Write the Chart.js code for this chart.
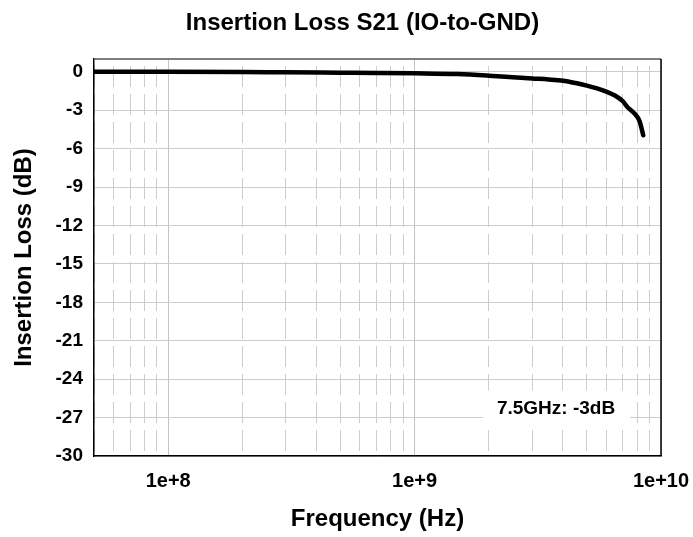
<!DOCTYPE html>
<html>
<head>
<meta charset="utf-8">
<script src="https://cdn.jsdelivr.net/npm/chart.js@4"></script>
<style>
  html, body { margin: 0; padding: 0; background: #fff; }
  #wrap { width: 693px; height: 537px; }
</style>
</head>
<body>
<div id="wrap"><canvas id="chart"></canvas></div>
<script>
// values
const freqs = [5e7, 1e8, 2e8, 3e8, 5e8, 7e8, 1e9, 1.5e9, 2e9, 2.5e9, 3e9, 3.5e9, 4e9, 4.5e9,
               5e9, 5.5e9, 6e9, 6.5e9, 7e9, 7.3e9, 7.6e9, 8e9, 8.2e9, 8.47e9];
const loss = [0, 0, -0.01, -0.04, -0.07, -0.09, -0.12, -0.18, -0.3, -0.42, -0.52, -0.6, -0.7, -0.88,
              -1.08, -1.3, -1.55, -1.85, -2.3, -2.75, -3.05, -3.5, -3.9, -4.95];
const yTicks = [0, -3, -6, -9, -12, -15, -18, -21, -24, -27, -30];
const xMajorTicks = [1e8, 1e9, 1e10];
const xMajorLabels = ['1e+8', '1e+9', '1e+10'];
const annotText = '7.5GHz: -3dB';
const titleText = 'Insertion Loss S21 (IO-to-GND)';

const FONT = '"Liberation Sans", Arial, Helvetica, sans-serif';

// minor grid at 1..9 x each decade inside the range
function logGrid(min, max) {
    const out = [];
    for (let e = 7; e <= 10; e++) {
        for (let m = 1; m <= 9; m++) {
            const v = m * Math.pow(10, e);
            if (v >= min - 1 && v <= max + 1) out.push(v);
        }
    }
    return out;
}
function isDecade(v) {
    const l = Math.log10(v);
    return Math.abs(l - Math.round(l)) < 1e-9;
}

const framePlugin = {
    id: 'frame',
    afterDatasetsDraw(chart) {
        const ctx = chart.ctx;
        const a = chart.chartArea;
        const xs = chart.scales.x, ys = chart.scales.y;
        // annotation box
        const cx = xs.getPixelForValue(3.75e9);
        const cy = ys.getPixelForValue(-26.3);
        ctx.save();
        ctx.fillStyle = '#fff';
        ctx.fillRect(cx - 73, cy - 18, 147, 37);
        ctx.fillStyle = '#000';
        ctx.font = 'bold 19px ' + FONT;
        ctx.textAlign = 'center';
        ctx.textBaseline = 'middle';
        ctx.fillText(annotText, cx, cy);
        // top and right border
        ctx.lineWidth = 1.5;
        ctx.strokeStyle = '#555';
        ctx.beginPath();
        ctx.moveTo(a.left, a.top);
        ctx.lineTo(a.right, a.top);
        ctx.stroke();
        ctx.strokeStyle = '#000';
        ctx.beginPath();
        ctx.moveTo(a.right, a.top);
        ctx.lineTo(a.right, a.bottom);
        ctx.stroke();
        ctx.restore();
    },
    afterDraw(chart) {
        const ctx = chart.ctx;
        ctx.save();
        ctx.fillStyle = '#000';
        ctx.font = 'bold 24px ' + FONT;
        ctx.textAlign = 'center';
        ctx.textBaseline = 'middle';
        ctx.fillText(titleText, chart.width / 2 + 16, 23);
        ctx.restore();
    }
};

new Chart(document.getElementById('chart'), {
    type: 'line',
    data: {
        datasets: [{
            data: freqs.map((f, i) => ({ x: f, y: loss[i] })),
            borderColor: '#000',
            borderWidth: 4.5,
            borderCapStyle: 'round',
            pointRadius: 0,
            cubicInterpolationMode: 'monotone',
            fill: false
        }]
    },
    options: {
        responsive: true,
        maintainAspectRatio: false,
        animation: false,
        layout: { padding: { left: 0, right: 32, top: 59, bottom: 0 } },
        plugins: {
            legend: { display: false },
            tooltip: { enabled: false }
        },
        scales: {
            x: {
                type: 'logarithmic',
                min: 5e7,
                max: 1e10,
                afterBuildTicks: scale => {
                    scale.ticks = logGrid(5e7, 1e10).map(v => ({ value: v, major: isDecade(v) }));
                },
                afterFit: scale => {
                    scale.height = 81;
                    scale.paddingLeft = 0;
                    scale.paddingRight = 0;
                },
                ticks: {
                    autoSkip: false,
                    maxRotation: 0,
                    padding: 13,
                    color: '#000',
                    font: { family: FONT, size: 20, weight: 'bold' },
                    callback: value => {
                        const i = xMajorTicks.findIndex(t => Math.abs(t - value) < 1);
                        return i >= 0 ? xMajorLabels[i] : '';
                    }
                },
                grid: {
                    drawTicks: false,
                    color: c => (c.tick && isDecade(c.tick.value)) ? '#c4c4c4' : '#cdcdcd',
                    lineWidth: 1
                },
                border: {
                    color: '#000',
                    width: 1.5,
                    dash: c => (c.tick && !isDecade(c.tick.value)) ? [21, 7] : [],
                    dashOffset: 21
                },
                title: {
                    display: true,
                    text: 'Frequency (Hz)',
                    color: '#000',
                    padding: { top: 0, bottom: 3 },
                    font: { family: FONT, size: 24, weight: 'bold' }
                }
            },
            y: {
                min: -30,
                max: 1,
                afterBuildTicks: scale => {
                    scale.ticks = yTicks.map(v => ({ value: v }));
                },
                afterFit: scale => { scale.width = 94; },
                ticks: {
                    padding: 11,
                    color: '#000',
                    font: { family: FONT, size: 19, weight: 'bold' }
                },
                grid: {
                    drawTicks: false,
                    color: '#cdcdcd',
                    lineWidth: 1
                },
                border: { color: '#000', width: 1.5 },
                title: {
                    display: true,
                    text: 'Insertion Loss (dB)',
                    color: '#000',
                    padding: { top: 10, bottom: 0 },
                    font: { family: FONT, size: 24, weight: 'bold' }
                }
            }
        }
    },
    plugins: [framePlugin]
});
</script>
</body>
</html>
